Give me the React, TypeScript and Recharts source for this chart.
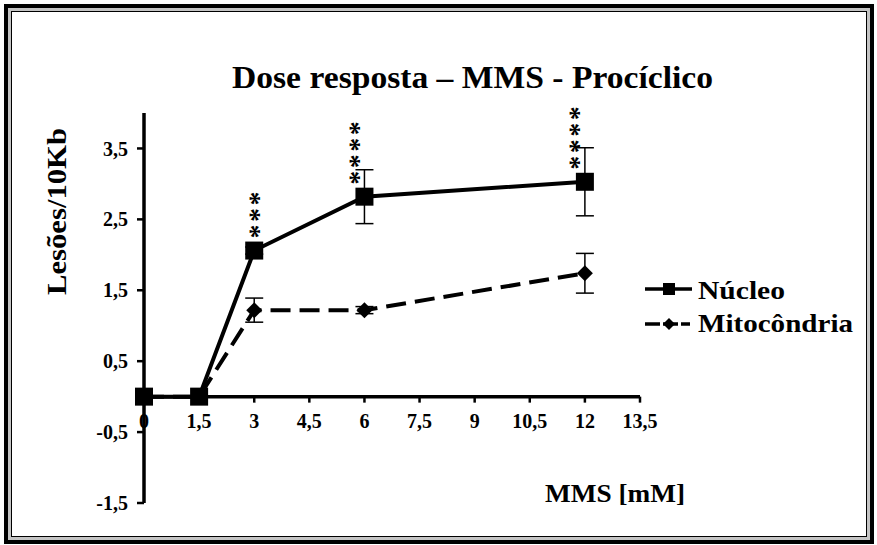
import React from "react";
import {
  ComposedChart, Line, XAxis, YAxis, ErrorBar, ReferenceLine, ReferenceDot, LabelList, Legend,
} from "recharts";

const doses = [0, 1.5, 3, 6, 12];
const nucleo = [0, 0, 2.06, 2.82, 3.03];
const nucleoErr = [0, 0, 0.05, 0.38, 0.48];
const mito = [0, 0, 1.22, 1.22, 1.74];
const mitoErr = [0, 0, 0.17, 0.05, 0.28];
const stars = ["", "", "***", "****", "****"];

const xTicks = [0, 1.5, 3, 4.5, 6, 7.5, 9, 10.5, 12, 13.5];
const yTicks = [-1.5, -0.5, 0.5, 1.5, 2.5, 3.5];

const data = doses.map((x, i) => ({
  x,
  nucleo: nucleo[i],
  nucleoErr: nucleoErr[i],
  mito: mito[i],
  mitoErr: mitoErr[i],
  stars: stars[i],
}));

const FONT = "'Liberation Serif', 'Times New Roman', serif";
const comma = (v: number) => String(v).replace(".", ",");

const Square = (props: any) => {
  const { cx, cy, index } = props;
  if (cx == null || cy == null) return null;
  return <rect key={`sq-${index}`} x={cx - 9} y={cy - 9} width={18} height={18} fill="#000" />;
};

const Diamond = (props: any) => {
  const { cx, cy, index } = props;
  if (cx == null || cy == null) return null;
  return (
    <path key={`dm-${index}`} d={`M${cx},${cy - 8}L${cx + 8},${cy}L${cx},${cy + 8}L${cx - 8},${cy}Z`} fill="#000" />
  );
};

const Stars = (props: any) => {
  const { x, y, value } = props;
  if (!value) return null;
  const n = String(value).length;
  const dx = n > 3 ? -11 : 0;
  return (
    <g>
      {Array.from(String(value)).map((s, k) => (
        <g key={k} transform={`translate(${x + dx},${y - 19 - k * 16.5}) rotate(90)`}>
          <text textAnchor="middle" dy="0.42em" fontFamily={FONT} fontWeight="bold" fontSize={28} fill="#000">
            {s}
          </text>
        </g>
      ))}
    </g>
  );
};

const XTick = (label: string) => (props: any) => {
  const { cx, cy } = props;
  return (
    <g>
      <line x1={cx} y1={cy} x2={cx} y2={cy + 6} stroke="#000" strokeWidth={2.5} />
      <text x={cx} y={cy + 31} textAnchor="middle" fontFamily={FONT} fontWeight="bold" fontSize={20} fill="#000">
        {label}
      </text>
    </g>
  );
};

const LegendBox = () => (
  <svg width={230} height={70} style={{ display: "block" }}>
    <line x1={5} y1={19} x2={52} y2={19} stroke="#000" strokeWidth={3.5} />
    <rect x={23} y={13} width={12} height={12} fill="#000" />
    <text x={58} y={29} fontFamily={FONT} fontWeight="bold" fontSize={25} textLength={87} lengthAdjust="spacingAndGlyphs">
      Núcleo
    </text>
    <line x1={5} y1={54} x2={50} y2={54} stroke="#000" strokeWidth={3.5} strokeDasharray="15 3" />
    <path d="M29,48L35,54L29,60L23,54Z" fill="#000" />
    <text x={58} y={62} fontFamily={FONT} fontWeight="bold" fontSize={25} textLength={155} lengthAdjust="spacingAndGlyphs">
      Mitocôndria
    </text>
  </svg>
);

export default function App() {
  return (
    <div style={{ position: "absolute", left: 0, top: 0, width: 877, height: 545, background: "#fff", fontFamily: FONT }}>
      <div style={{ position: "absolute", left: 4, top: 4, width: 862, height: 532, border: "4px solid #000" }}>
        <div style={{ position: "absolute", inset: 0, border: "3px solid #c4c4c4", boxShadow: "inset 0 0 0 1px #000" }} />
      </div>
      <svg width={877} height={545} style={{ position: "absolute", left: 0, top: 0 }}>
        <text x={232} y={88} fontFamily={FONT} fontWeight="bold" fontSize={32} textLength={481} lengthAdjust="spacingAndGlyphs">
          Dose resposta – MMS - Procíclico
        </text>
        <text
          transform="translate(66,295) rotate(-90)"
          fontFamily={FONT} fontWeight="bold" fontSize={28} textLength={167} lengthAdjust="spacingAndGlyphs"
        >
          Lesões/10Kb
        </text>
        <text x={545} y={502} fontFamily={FONT} fontWeight="bold" fontSize={25} textLength={140} lengthAdjust="spacingAndGlyphs">
          MMS  [mM]
        </text>
      </svg>
      <div style={{ position: "absolute", left: 0, top: 0 }}>
        <ComposedChart width={877} height={545} data={data} margin={{ top: 113, right: 237, bottom: 42, left: 84 }}>
          <XAxis type="number" dataKey="x" domain={[0, 13.5]} hide />
          <YAxis
            type="number" domain={[-1.5, 4]} ticks={yTicks} width={60} allowDataOverflow
            tickFormatter={comma} tickSize={7} tickMargin={9}
            axisLine={{ stroke: "#000", strokeWidth: 3.5 }}
            tickLine={{ stroke: "#000", strokeWidth: 2.5 }}
            tick={{ fill: "#000", fontSize: 20, fontWeight: "bold", fontFamily: FONT }}
          />
          <ReferenceLine y={0} stroke="#000" strokeWidth={3.5} />
          {xTicks.map((t) => (
            <ReferenceDot key={t} x={t} y={0} r={0} shape={XTick(comma(t))} />
          ))}
          <Legend
            layout="horizontal" verticalAlign="middle" align="center"
            content={<LegendBox />}
            wrapperStyle={{ left: 640, top: 270, width: 230, height: 70 }}
          />
          <Line
            name="Mitocôndria" dataKey="mito" stroke="#000" strokeWidth={4} strokeDasharray="20 9"
            dot={Diamond} activeDot={false} isAnimationActive={false}
          >
            <ErrorBar dataKey="mitoErr" width={9} stroke="#000" strokeWidth={1.5} direction="y" />
          </Line>
          <Line
            name="Núcleo" dataKey="nucleo" stroke="#000" strokeWidth={4}
            dot={Square} activeDot={false} isAnimationActive={false}
          >
            <ErrorBar dataKey="nucleoErr" width={9} stroke="#000" strokeWidth={1.5} direction="y" />
            <LabelList dataKey="stars" content={Stars} />
          </Line>
        </ComposedChart>
      </div>
    </div>
  );
}
